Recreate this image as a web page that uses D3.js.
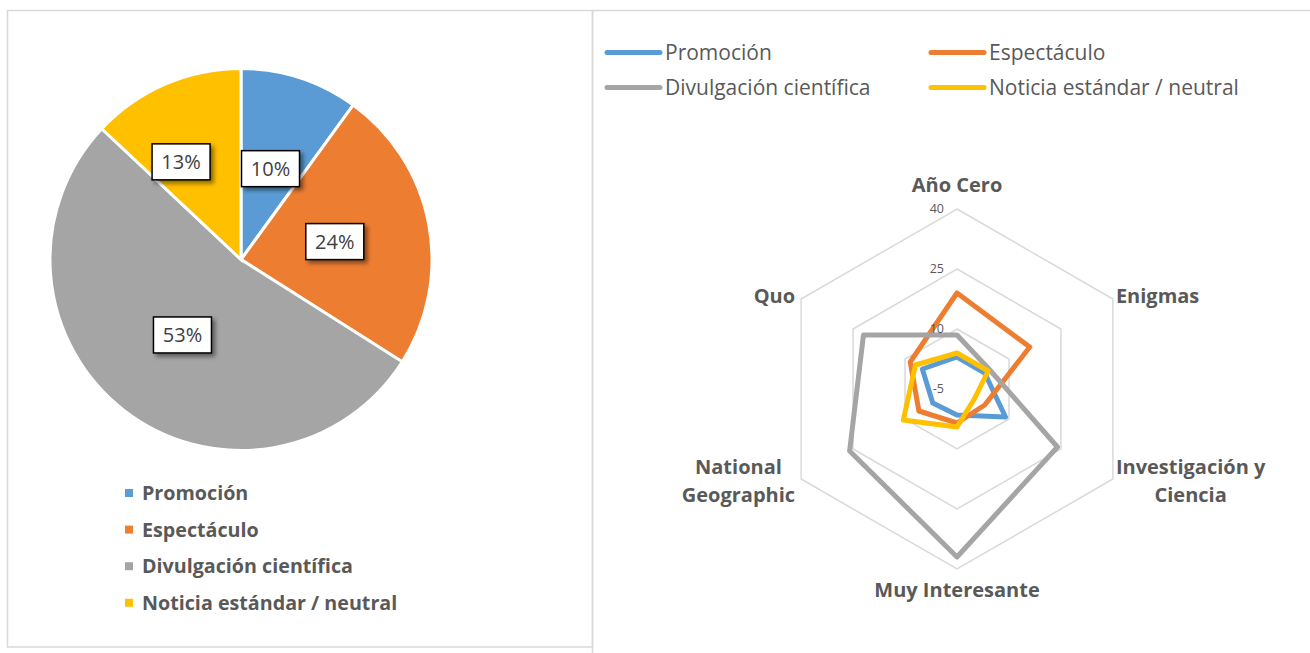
<!DOCTYPE html>
<html lang="es">
<head>
  <meta charset="UTF-8" />
  <title>Tipos de noticia por revista</title>
  <script src="https://d3js.org/d3.v7.min.js"></script>
  <style>
    body { margin: 0; background: #fff; font-family: "Open Sans", Lato, sans-serif; }
    svg { display: block; }
  </style>
</head>
<body>
  <svg id="chart" width="1310" height="653"></svg>

  <script>
    const CATEGORIES = ["Promoción", "Espectáculo", "Divulgación científica", "Noticia estándar / neutral"];
    const COLORS = ["#5b9bd5", "#ed7d31", "#a5a5a5", "#ffc000"];
    const PIE_SHARES = [10, 24, 53, 13];

    const MAGAZINES = ["Año Cero", "Enigmas", "Investigación y\nCiencia", "Muy Interesante", "National\nGeographic", "Quo"];
    const RADAR_TICKS = [-5, 10, 25, 40];
    const PROMOCION   = [3, 3, 9, 1.5, 2, 5];
    const ESPECTACULO = [19, 16, 3, 3.5, 6, 8.5];
    const DIVULGACION = [8.5, 4.5, 24, 37, 26, 22];
    const NOTICIA     = [4, 4, 0, 4.5, 10.5, 7];
    const SERIES = [PROMOCION, ESPECTACULO, DIVULGACION, NOTICIA];

    const svg = d3.select("#chart");
    const textColor = "#595959";

    // panel frames
    svg.append("rect").attr("x", 7.5).attr("y", 10.5).attr("width", 585).attr("height", 636.5)
      .attr("fill", "none").attr("stroke", "#d9d9d9").attr("stroke-width", 1.5);
    svg.append("path").attr("d", "M592.5,10.5H1312M592.5,10.5V660")
      .attr("fill", "none").attr("stroke", "#d9d9d9").attr("stroke-width", 1.5);

    // shadow for data labels
    const defs = svg.append("defs");
    const f = defs.append("filter").attr("id", "shadow").attr("x", "-30%").attr("y", "-30%").attr("width", "170%").attr("height", "170%");
    f.append("feDropShadow").attr("dx", 3).attr("dy", 3).attr("stdDeviation", 2)
      .attr("flood-color", "#000").attr("flood-opacity", 0.45);

    // --- Pie ---
    const pieCx = 241, pieCy = 259.5, pieR = 191;
    const pieG = svg.append("g").attr("transform", `translate(${pieCx},${pieCy})`);
    const pie = d3.pie().sort(null).value(d => d)(PIE_SHARES);
    const arc = d3.arc().innerRadius(0).outerRadius(pieR);
    const labelArc = d3.arc().innerRadius(pieR * 0.5).outerRadius(pieR * 0.5);

    pieG.selectAll("path.slice")
      .data(pie)
      .enter()
      .append("path")
      .attr("class", "slice")
      .attr("d", arc)
      .attr("fill", (d, i) => COLORS[i])
      .attr("stroke", "#fff")
      .attr("stroke-width", 3);

    // label nudges (small slice labels are pushed off the edge like Excel's best fit)
    const labelShift = [[0, 0], [0, 0], [0, 0], [-22, -10]];
    const labels = pieG.selectAll("g.lbl")
      .data(pie)
      .enter()
      .append("g")
      .attr("class", "lbl")
      .attr("transform", (d, i) => {
        const [x, y] = labelArc.centroid(d);
        return `translate(${x + labelShift[i][0]},${y + labelShift[i][1]})`;
      });
    labels.append("rect")
      .attr("x", -29).attr("y", -18).attr("width", 58).attr("height", 36)
      .attr("fill", "#fff").attr("stroke", "#000").attr("stroke-width", 1.5)
      .attr("filter", "url(#shadow)");
    labels.append("text")
      .attr("text-anchor", "middle").attr("dy", "0.36em")
      .attr("font-size", 20).attr("fill", "#404040")
      .text(d => d.data + "%");

    // pie legend
    const pieLeg = svg.append("g").attr("transform", "translate(125,493)");
    CATEGORIES.forEach((c, i) => {
      const row = pieLeg.append("g").attr("transform", `translate(0,${i * 36.6})`);
      row.append("rect").attr("x", 0).attr("y", -4).attr("width", 8).attr("height", 8).attr("fill", COLORS[i]);
      row.append("text").attr("x", 17).attr("dy", "0.35em")
        .attr("font-size", 19.7).attr("font-weight", "bold").attr("fill", textColor).text(c);
    });

    // --- Radar ---
    const cx = 957, cy = 389, R = 180;
    const r = d3.scaleLinear().domain([RADAR_TICKS[0], RADAR_TICKS[RADAR_TICKS.length - 1]]).range([0, R]);
    const angle = i => i * 2 * Math.PI / MAGAZINES.length;
    const pt = (i, v) => [cx + r(v) * Math.sin(angle(i)), cy - r(v) * Math.cos(angle(i))];

    const radarG = svg.append("g");
    RADAR_TICKS.slice(1).forEach(t => {
      radarG.append("path")
        .attr("d", d3.line()(MAGAZINES.map((m, i) => pt(i, t))) + "Z")
        .attr("fill", "none").attr("stroke", "#d9d9d9").attr("stroke-width", 1.5);
    });

    SERIES.forEach((s, k) => {
      radarG.append("path")
        .attr("d", d3.line()(s.map((v, i) => pt(i, v))) + "Z")
        .attr("fill", "none").attr("stroke", COLORS[k]).attr("stroke-width", 5)
        .attr("stroke-linejoin", "round");
    });

    // tick labels sit on top of the series lines
    RADAR_TICKS.forEach(t => {
      radarG.append("text")
        .attr("x", cx - 13).attr("y", cy - r(t)).attr("dy", "0.35em")
        .attr("text-anchor", "end").attr("font-size", 12.5).attr("fill", textColor)
        .text(t);
    });

    // axis labels
    MAGAZINES.forEach((m, i) => {
      const a = angle(i);
      const sx = Math.sin(a), sy = -Math.cos(a);
      const [vx, vy] = pt(i, RADAR_TICKS[RADAR_TICKS.length - 1]);
      const lines = m.split("\n");
      const g = radarG.append("g");
      const texts = lines.map((ln, j) => g.append("text")
        .attr("font-size", 20).attr("font-weight", "bold").attr("fill", textColor)
        .attr("text-anchor", "middle").attr("dy", "0.35em")
        .attr("y", (j - (lines.length - 1) / 2) * 28)
        .text(ln));
      const w = d3.max(texts, t => t.node().getComputedTextLength());
      let x = vx, y = vy;
      if (Math.abs(sx) < 0.1) {
        y = vy + (sy < 0 ? -24 : 21);
      } else {
        x = vx + (sx > 0 ? 3 + w / 2 : -6 - w / 2);
        y = vy + (sy < 0 ? -3 : 2);
      }
      g.attr("transform", `translate(${x},${y})`);
    });

    // radar legend
    const radLeg = svg.append("g").attr("transform", "translate(607,52.5)");
    CATEGORIES.forEach((c, i) => {
      const row = radLeg.append("g")
        .attr("transform", `translate(${(i % 2) * 324},${Math.floor(i / 2) * 35})`);
      row.append("line").attr("x1", 0).attr("x2", 53).attr("y1", 0).attr("y2", 0)
        .attr("stroke", COLORS[i]).attr("stroke-width", 5).attr("stroke-linecap", "round");
      row.append("text").attr("x", 58).attr("dy", "0.35em")
        .attr("font-size", 21).attr("fill", textColor).text(c);
    });
  </script>
</body>
</html>
